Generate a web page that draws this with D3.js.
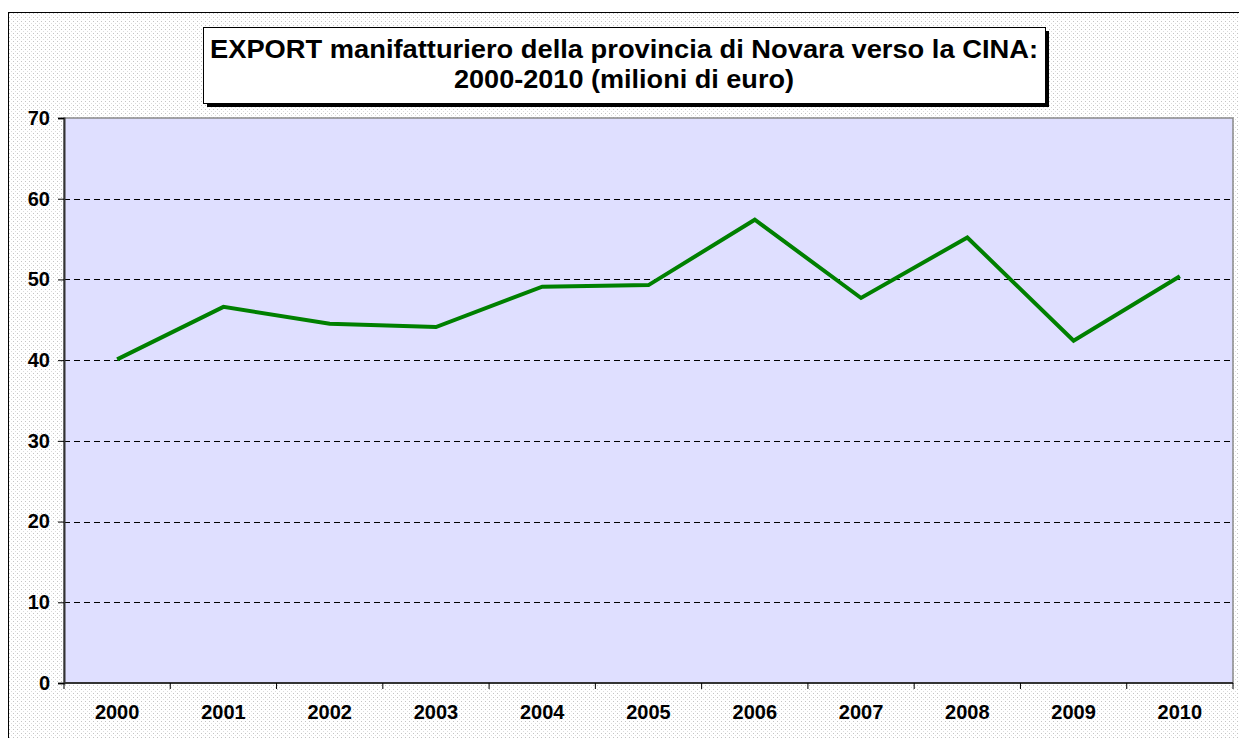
<!DOCTYPE html>
<meta charset="utf-8">
<style>
  body { margin: 0; background: #fff; }
  text { font-family: "Liberation Sans", Arial, sans-serif; font-weight: bold; }
</style>
<body>
<script src="https://cdn.jsdelivr.net/npm/d3@7/dist/d3.min.js"></script>
<script>
var years = ["2000", "2001", "2002", "2003", "2004", "2005", "2006", "2007", "2008", "2009", "2010"];
var exportValues = [40.1, 46.6, 44.5, 44.1, 49.1, 49.3, 57.4, 47.7, 55.2, 42.4, 50.4];
var yTicks = [0, 10, 20, 30, 40, 50, 60, 70];
var titleLines = ["EXPORT manifatturiero della provincia di Novara verso la CINA:", "2000-2010 (milioni di euro)"];

var width = 1239, height = 738;
var plot = {left: 64, top: 118, right: 1233, bottom: 683};

var svg = d3.select("body").append("svg")
  .attr("width", width)
  .attr("height", height);

// dotted chart-area pattern
var defs = svg.append("defs");
var pat = defs.append("pattern")
  .attr("id", "dots")
  .attr("patternUnits", "userSpaceOnUse")
  .attr("width", 4).attr("height", 4);
pat.append("rect").attr("width", 4).attr("height", 4).attr("fill", "#fff");
pat.append("rect").attr("x", 1).attr("y", 1).attr("width", 1).attr("height", 1).attr("fill", "#c4c4c4");
pat.append("rect").attr("x", 3).attr("y", 3).attr("width", 1).attr("height", 1).attr("fill", "#dcdcdc");

svg.append("rect")
  .attr("x", 8.5).attr("y", 12.5)
  .attr("width", width).attr("height", height)
  .attr("fill", "url(#dots)")
  .attr("stroke", "#000").attr("stroke-width", 1);

var x = d3.scaleBand().domain(years).range([plot.left, plot.right]);
var y = d3.scaleLinear().domain([0, 70]).range([plot.bottom, plot.top]);

// plot area
svg.append("rect")
  .attr("x", plot.left).attr("y", plot.top)
  .attr("width", plot.right - plot.left).attr("height", plot.bottom - plot.top)
  .attr("fill", "#dfdfff")
  .attr("stroke", "#8a8a8a").attr("stroke-width", 1.5);

// gridlines
svg.append("g").selectAll("line")
  .data(yTicks.filter(function(d) { return d > 0 && d < 70; }))
  .join("line")
  .attr("x1", plot.left).attr("x2", plot.right)
  .attr("y1", function(d) { return Math.round(y(d)) + 0.5; })
  .attr("y2", function(d) { return Math.round(y(d)) + 0.5; })
  .attr("stroke", "#000")
  .attr("stroke-dasharray", "6,4");

// y axis
var yAxis = svg.append("g")
  .attr("transform", "translate(" + plot.left + ",0)")
  .call(d3.axisLeft(y).tickValues(yTicks).tickSize(6).tickPadding(8));
yAxis.select(".domain").attr("stroke", "#333").attr("stroke-width", 2);
yAxis.selectAll(".tick line").attr("stroke", "#000");
yAxis.selectAll("text").attr("font-size", 20).attr("font-weight", "bold").attr("fill", "#000")
  .attr("font-family", "Liberation Sans, Arial, sans-serif");

// x axis
var bounds = years.map(function(d) { return x(d); }).concat([plot.right]);
var xAxis = svg.append("g");
xAxis.append("line")
  .attr("x1", plot.left).attr("x2", plot.right)
  .attr("y1", plot.bottom).attr("y2", plot.bottom)
  .attr("stroke", "#333").attr("stroke-width", 2);
xAxis.selectAll("line.tk").data(bounds).join("line")
  .attr("class", "tk")
  .attr("x1", function(d) { return d; }).attr("x2", function(d) { return d; })
  .attr("y1", plot.bottom).attr("y2", plot.bottom + 6)
  .attr("stroke", "#000");
xAxis.selectAll("text").data(years).join("text")
  .attr("x", function(d) { return x(d) + x.bandwidth() / 2; })
  .attr("y", plot.bottom + 36)
  .attr("text-anchor", "middle")
  .attr("font-size", 20)
  .text(function(d) { return d; });

// line
var line = d3.line()
  .x(function(d, i) { return x(years[i]) + x.bandwidth() / 2; })
  .y(function(d) { return y(d); });
svg.append("path")
  .datum(exportValues)
  .attr("d", line)
  .attr("fill", "none")
  .attr("stroke", "#008000")
  .attr("stroke-width", 4)
  .attr("stroke-linejoin", "miter");

// title box with shadow
var tb = {x: 203, y: 27, w: 842, h: 76};
svg.append("rect")
  .attr("x", tb.x + 4).attr("y", tb.y + 4)
  .attr("width", tb.w).attr("height", tb.h)
  .attr("fill", "#000");
svg.append("rect")
  .attr("x", tb.x + 0.5).attr("y", tb.y + 0.5)
  .attr("width", tb.w).attr("height", tb.h)
  .attr("fill", "#fff").attr("stroke", "#000");
svg.append("g").selectAll("text").data(titleLines).join("text")
  .attr("x", tb.x + tb.w / 2)
  .attr("y", function(d, i) { return 58 + i * 30; })
  .attr("text-anchor", "middle")
  .attr("font-size", 26)
  .attr("textLength", function(d, i) { return i === 0 ? 828 : 340; })
  .attr("lengthAdjust", "spacingAndGlyphs")
  .text(function(d) { return d; });
</script>
</body>
